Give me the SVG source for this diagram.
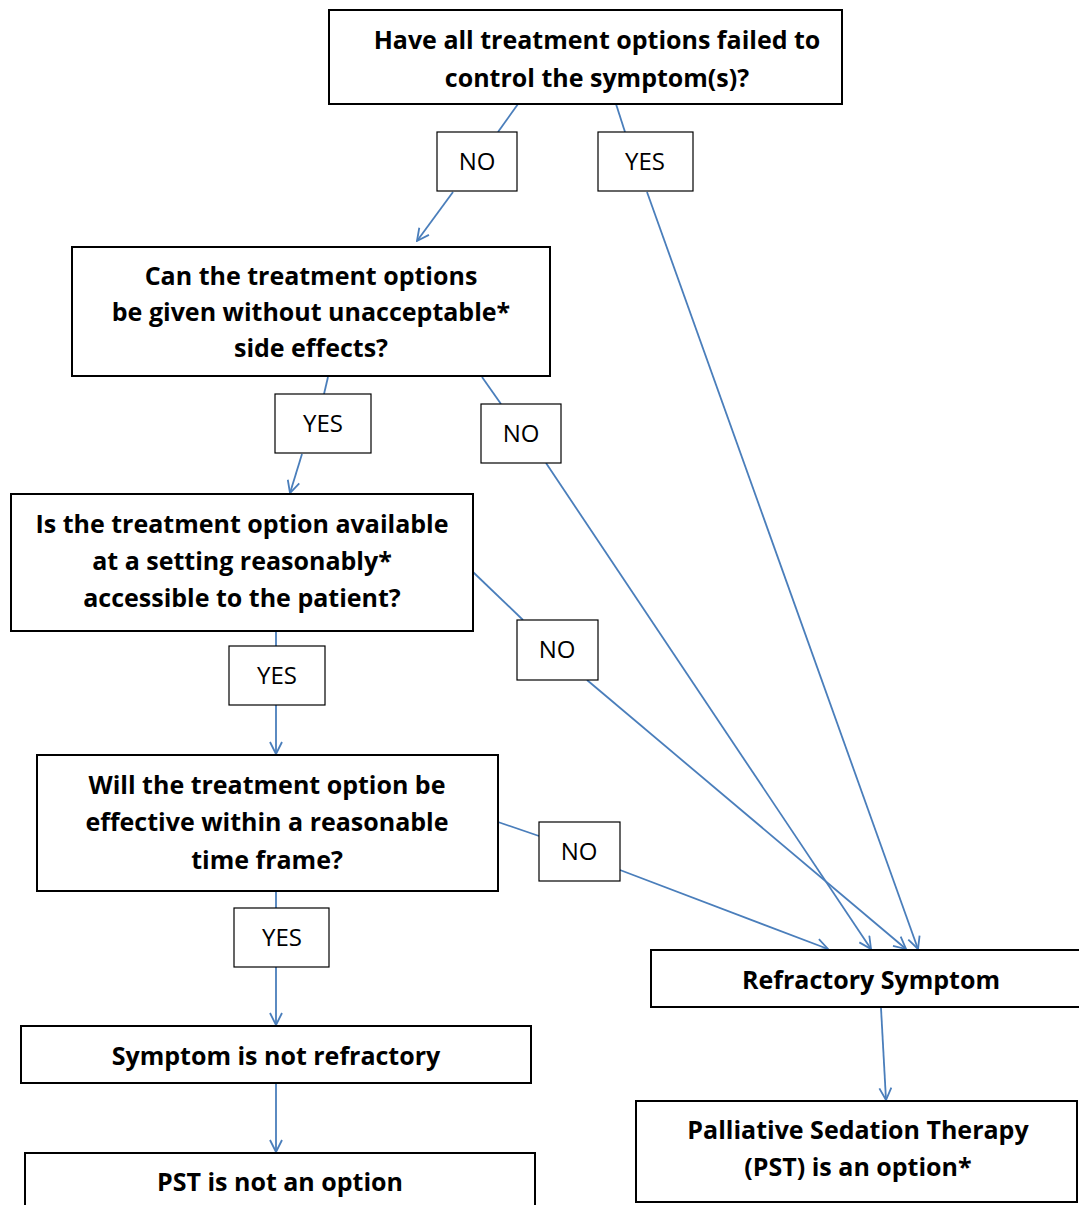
<svg xmlns="http://www.w3.org/2000/svg" width="1079" height="1205" viewBox="0 0 1079 1205">
<style>
.box{fill:#fff;stroke:#000;stroke-width:2}
.lbl{fill:#fff;stroke:#000;stroke-width:1.2}
.t{font-family:"Open Sans","Liberation Sans",sans-serif;font-weight:bold;font-size:25px;fill:#000;text-anchor:middle}
.l{font-family:"Open Sans","Liberation Sans",sans-serif;font-size:24px;fill:#000;text-anchor:middle}
.c{stroke:#4a7ebb;stroke-width:1.8;fill:none}
.a{marker-end:url(#arr)}
</style>
<defs>
<marker id="arr" viewBox="0 0 14 14" refX="13" refY="7" markerWidth="14" markerHeight="14" markerUnits="userSpaceOnUse" orient="auto">
<path d="M1,1 L13,7 L1,13" fill="none" stroke="#4a7ebb" stroke-width="1.8"/>
</marker>
</defs>
<g id="connectors">
<path class="c" d="M518,104 L498,132"/>
<path class="c a" d="M453,192 L417,241"/>
<path class="c" d="M616,104 L625,132"/>
<path class="c a" d="M647,192 L918,949"/>
<path class="c" d="M328,377 L324,394"/>
<path class="c a" d="M302,454 L290,493"/>
<path class="c" d="M482,377 L501,404"/>
<path class="c a" d="M546,463 L871,949"/>
<path class="c" d="M276,631 L276,646"/>
<path class="c a" d="M276,705 L276,754"/>
<path class="c" d="M473,572 L523,620"/>
<path class="c a" d="M587,680 L906,949"/>
<path class="c" d="M498,822 L539,836"/>
<path class="c a" d="M620,870 L828,949"/>
<path class="c" d="M276,891 L276,908"/>
<path class="c a" d="M276,967 L276,1025"/>
<path class="c a" d="M276,1083 L276,1152"/>
<path class="c a" d="M881,1008 L886,1100"/>
</g>
<g id="q1">
<rect class="box" x="329" y="10" width="513" height="94"/>
<text class="t" x="597" y="49">Have all treatment options failed to</text>
<text class="t" x="597" y="87">control the symptom(s)?</text>
</g>
<g id="lbl-no1"><rect class="lbl" x="437" y="132" width="80" height="59"/><text class="l" x="477" y="170">NO</text></g>
<g id="lbl-yes1"><rect class="lbl" x="598" y="132" width="95" height="59"/><text class="l" x="645" y="170">YES</text></g>
<g id="q2">
<rect class="box" x="72" y="247" width="478" height="129"/>
<text class="t" x="311" y="285">Can the treatment options</text>
<text class="t" x="311" y="321">be given without unacceptable*</text>
<text class="t" x="311" y="357">side effects?</text>
</g>
<g id="lbl-yes2"><rect class="lbl" x="275" y="394" width="96" height="59"/><text class="l" x="323" y="432">YES</text></g>
<g id="lbl-no2"><rect class="lbl" x="481" y="404" width="80" height="59"/><text class="l" x="521" y="442">NO</text></g>
<g id="q3">
<rect class="box" x="11" y="494" width="462" height="137"/>
<text class="t" x="242" y="533">Is the treatment option available</text>
<text class="t" x="242" y="570">at a setting reasonably*</text>
<text class="t" x="242" y="607">accessible to the patient?</text>
</g>
<g id="lbl-yes3"><rect class="lbl" x="229" y="646" width="96" height="59"/><text class="l" x="277" y="684">YES</text></g>
<g id="lbl-no3"><rect class="lbl" x="517" y="620" width="81" height="60"/><text class="l" x="557" y="658">NO</text></g>
<g id="q4">
<rect class="box" x="37" y="755" width="461" height="136"/>
<text class="t" x="267" y="794">Will the treatment option be</text>
<text class="t" x="267" y="831">effective within a reasonable</text>
<text class="t" x="267" y="869">time frame?</text>
</g>
<g id="lbl-no4"><rect class="lbl" x="539" y="822" width="81" height="59"/><text class="l" x="579" y="860">NO</text></g>
<g id="lbl-yes4"><rect class="lbl" x="234" y="908" width="95" height="59"/><text class="l" x="282" y="946">YES</text></g>
<g id="not-refractory">
<rect class="box" x="21" y="1026" width="510" height="57"/>
<text class="t" x="276" y="1065">Symptom is not refractory</text>
</g>
<g id="pst-not">
<rect class="box" x="25" y="1153" width="510" height="60"/>
<text class="t" x="280" y="1191">PST is not an option</text>
</g>
<g id="refractory">
<rect class="box" x="651" y="950" width="434" height="57"/>
<text class="t" x="871" y="989">Refractory Symptom</text>
</g>
<g id="pst-option">
<rect class="box" x="636" y="1101" width="441" height="101"/>
<text class="t" x="858" y="1139">Palliative Sedation Therapy</text>
<text class="t" x="858" y="1176">(PST) is an option*</text>
</g>
</svg>
